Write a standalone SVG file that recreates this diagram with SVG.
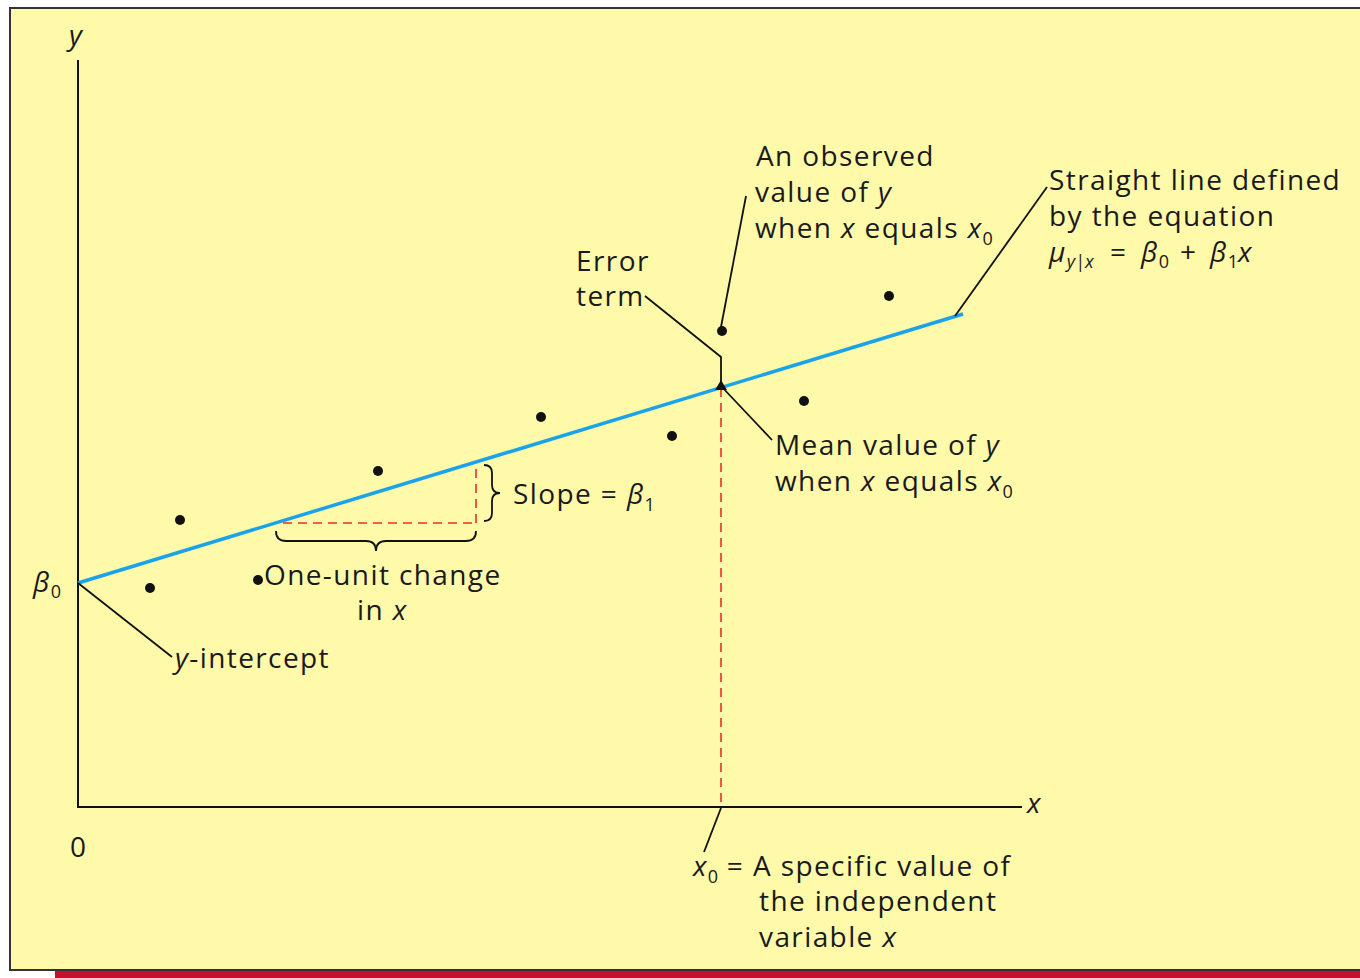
<svg xmlns="http://www.w3.org/2000/svg" width="1360" height="978" viewBox="0 0 1360 978">
<style>
text{font-family:"Open Sans","Noto Sans","DejaVu Sans",sans-serif;font-size:28px;letter-spacing:1.4px;fill:#1a1a1a}
.i{font-style:italic}
.sub{font-size:18px;letter-spacing:0}
.ld{stroke:#111;stroke-width:1.8;fill:none}
.dash{stroke:#e8302a;stroke-width:1.6;stroke-dasharray:9 6;fill:none}
.dot{fill:#111}
</style>
<rect x="0" y="0" width="1360" height="978" fill="#ffffff"/>
<rect x="55" y="970" width="1305" height="8" fill="#c8102e"/>
<rect x="10" y="8" width="1360" height="962" fill="#fff9aa" stroke="#333" stroke-width="2"/>
<g id="axes">
<line x1="78" y1="60" x2="78" y2="808" stroke="#111" stroke-width="2"/>
<line x1="77" y1="807" x2="1022" y2="807" stroke="#111" stroke-width="2"/>
<text x="69" y="45" class="i">y</text>
<text x="1027" y="813" class="i">x</text>
<text x="70" y="857">0</text>
<text x="33" y="592" class="i">β<tspan class="sub" font-style="normal" dy="6">0</tspan></text>
</g>
<g id="connectors">
<line x1="78" y1="583" x2="963" y2="314" stroke="#1aa3e8" stroke-width="3.5"/>
<line class="dash" x1="721" y1="388" x2="721" y2="806"/>
<line class="dash" x1="283" y1="523" x2="476" y2="523"/>
<line class="dash" x1="476" y1="523" x2="476" y2="464"/>
<path class="ld" d="M276,531 Q276,541 286,541 L366,541 Q376,541 376,551 Q376,541 386,541 L466,541 Q476,541 476,531" stroke-width="1.6"/>
<path class="ld" d="M484,465 Q492,465 492,473 L492,485 Q492,493 500,493 Q492,493 492,501 L492,513 Q492,521 484,521" stroke-width="1.6"/>
<polyline class="ld" points="78,583 172,657"/>
<polyline class="ld" points="645,296 721,357 721,386"/>
<polyline class="ld" points="721,327 746,196"/>
<polyline class="ld" points="721,386 772,440"/>
<polyline class="ld" points="955,316 1047,187"/>
<polyline class="ld" points="721,808 704,852"/>
<polygon points="721,380 727,390 715,390" fill="#111"/>
</g>
<g id="points">
<circle class="dot" cx="150" cy="588" r="5"/>
<circle class="dot" cx="180" cy="520" r="5"/>
<circle class="dot" cx="258" cy="580" r="5"/>
<circle class="dot" cx="378" cy="471" r="5"/>
<circle class="dot" cx="541" cy="417" r="5"/>
<circle class="dot" cx="672" cy="436" r="5"/>
<circle class="dot" cx="722" cy="331" r="5"/>
<circle class="dot" cx="804" cy="401" r="5"/>
<circle class="dot" cx="889" cy="296" r="5"/>
</g>
<g id="label-observed">
<text x="756" y="166">An observed</text>
<text x="755" y="202">value of <tspan class="i">y</tspan></text>
<text x="755" y="238">when <tspan class="i">x</tspan> equals <tspan class="i">x</tspan><tspan class="sub" dy="7">0</tspan></text>
</g>
<g id="label-line">
<text x="1049" y="190">Straight line defined</text>
<text x="1049" y="226">by the equation</text>
<text x="1049" y="262" class="i">μ<tspan class="sub" dy="6">y|x</tspan><tspan x="1110" dy="-6" font-style="normal">=</tspan><tspan x="1141">β</tspan><tspan class="sub" font-style="normal" dy="6">0</tspan><tspan x="1180" dy="-6" font-style="normal">+</tspan><tspan x="1210">β</tspan><tspan class="sub" font-style="normal" dy="6">1</tspan><tspan dy="-6">x</tspan></text>
</g>
<g id="label-error">
<text x="576" y="271">Error</text>
<text x="576" y="306">term</text>
</g>
<g id="label-mean">
<text x="775" y="455">Mean value of <tspan class="i">y</tspan></text>
<text x="775" y="491">when <tspan class="i">x</tspan> equals <tspan class="i">x</tspan><tspan class="sub" dy="7">0</tspan></text>
</g>
<g id="label-slope">
<text x="513" y="504">Slope = <tspan class="i">β</tspan><tspan class="sub" dy="7">1</tspan></text>
</g>
<g id="label-unit">
<text x="264" y="585">One-unit change</text>
<text x="357" y="620">in <tspan class="i">x</tspan></text>
</g>
<g id="label-intercept">
<text x="175" y="668"><tspan class="i">y</tspan>-intercept</text>
</g>
<g id="label-x0">
<text x="693" y="876"><tspan class="i">x</tspan><tspan class="sub" dy="7">0</tspan><tspan dy="-7"> = A specific value of</tspan></text>
<text x="759" y="911">the independent</text>
<text x="759" y="947">variable <tspan class="i">x</tspan></text>
</g>
</svg>
